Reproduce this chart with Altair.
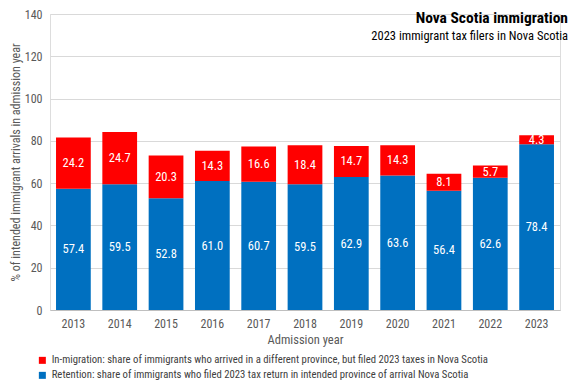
import altair as alt
import pandas as pd

years = ["2013", "2014", "2015", "2016", "2017", "2018", "2019", "2020", "2021", "2022", "2023"]
retention = [57.4, 59.5, 52.8, 61.0, 60.7, 59.5, 62.9, 63.6, 56.4, 62.6, 78.4]
inmigration = [24.2, 24.7, 20.3, 14.3, 16.6, 18.4, 14.7, 14.3, 8.1, 5.7, 4.3]
series_names = [
    "In-migration: share of immigrants who arrived in a different province, but filed 2023 taxes in Nova Scotia",
    "Retention: share of immigrants who filed 2023 tax return in intended province of arrival Nova Scotia",
]
colors = ["#FF0000", "#0070C0"]
title_lines = ["Nova Scotia immigration", "2023 immigrant tax filers in Nova Scotia"]
y_ticks = [0, 20, 40, 60, 80, 100, 120, 140]

FONT = "Roboto Condensed, Roboto, sans-serif"
GREY = "#595959"

rows = []
for yr, r, m in zip(years, retention, inmigration):
    rows.append({"year": yr, "series": series_names[1], "value": r, "order": 0})
    rows.append({"year": yr, "series": series_names[0], "value": m, "order": 1})
df = pd.DataFrame(rows)

base = alt.Chart(df).transform_stack(
    stack="value", as_=["y0", "y1"], groupby=["year"],
    sort=[alt.SortField("order", order="ascending")]
).transform_calculate(mid="(datum.y0 + datum.y1) / 2")

x_enc = alt.X(
    "year:O", title="Admission year", sort=years,
    scale=alt.Scale(paddingInner=0.25, paddingOuter=0.13),
    axis=alt.Axis(labelAngle=0, ticks=False, domainColor="#BFBFBF", labelColor=GREY,
                  labelFontSize=12, labelPadding=8, titleFontSize=12.5, titleFontWeight="normal",
                  titleColor=GREY, titlePadding=4, labelFont=FONT, titleFont=FONT),
)

bars = base.mark_bar().encode(
    x=x_enc,
    y=alt.Y("y0:Q", scale=alt.Scale(domain=[0, 140], nice=False),
            axis=alt.Axis(values=y_ticks, title="% of intended immigrant arrivals in admission year",
                          domain=False, ticks=False, gridColor="#D9D9D9", labelColor=GREY,
                          labelFontSize=12, labelPadding=8, titleFontSize=12,
                          titleFontWeight="normal", titleColor=GREY, titlePadding=2,
                          labelFont=FONT, titleFont=FONT)),
    y2="y1:Q",
    color=alt.Color("series:N", scale=alt.Scale(domain=series_names, range=colors),
                    legend=alt.Legend(title=None, orient="none", legendX=-13, legendY=341,
                                      direction="vertical", symbolType="square", symbolSize=49,
                                      symbolStrokeWidth=0, labelFontSize=10.7, labelColor="#404040",
                                      labelLimit=0, rowPadding=3, labelFont=FONT, labelOffset=4)),
)

labels = base.mark_text(color="white", fontSize=12.5, font=FONT).encode(
    x=alt.X("year:O", sort=years),
    y=alt.Y("mid:Q"),
    text=alt.Text("value:Q", format=".1f"),
)

tdf = pd.DataFrame({"t": [title_lines[0]]})
sdf = pd.DataFrame({"t": [title_lines[1]]})
title = alt.Chart(tdf).mark_text(align="right", baseline="middle", fontSize=15.5, fontWeight="bold",
                                 color="#000000", font=FONT).encode(
    x=alt.value(518), y=alt.value(4), text="t:N")
subtitle = alt.Chart(sdf).mark_text(align="right", baseline="middle", fontSize=12.5,
                                    color="#000000", font=FONT).encode(
    x=alt.value(518), y=alt.value(22), text="t:N")

chart = alt.layer(bars, labels, title, subtitle).properties(
    width=510, height=296,
    autosize=alt.AutoSizeParams(type="none"),
    padding={"left": 42, "top": 6, "right": 9, "bottom": 70},
).configure_view(stroke=None).configure(font=FONT)

chart.save("out.html", embed_options={"renderer": "svg", "actions": False})
